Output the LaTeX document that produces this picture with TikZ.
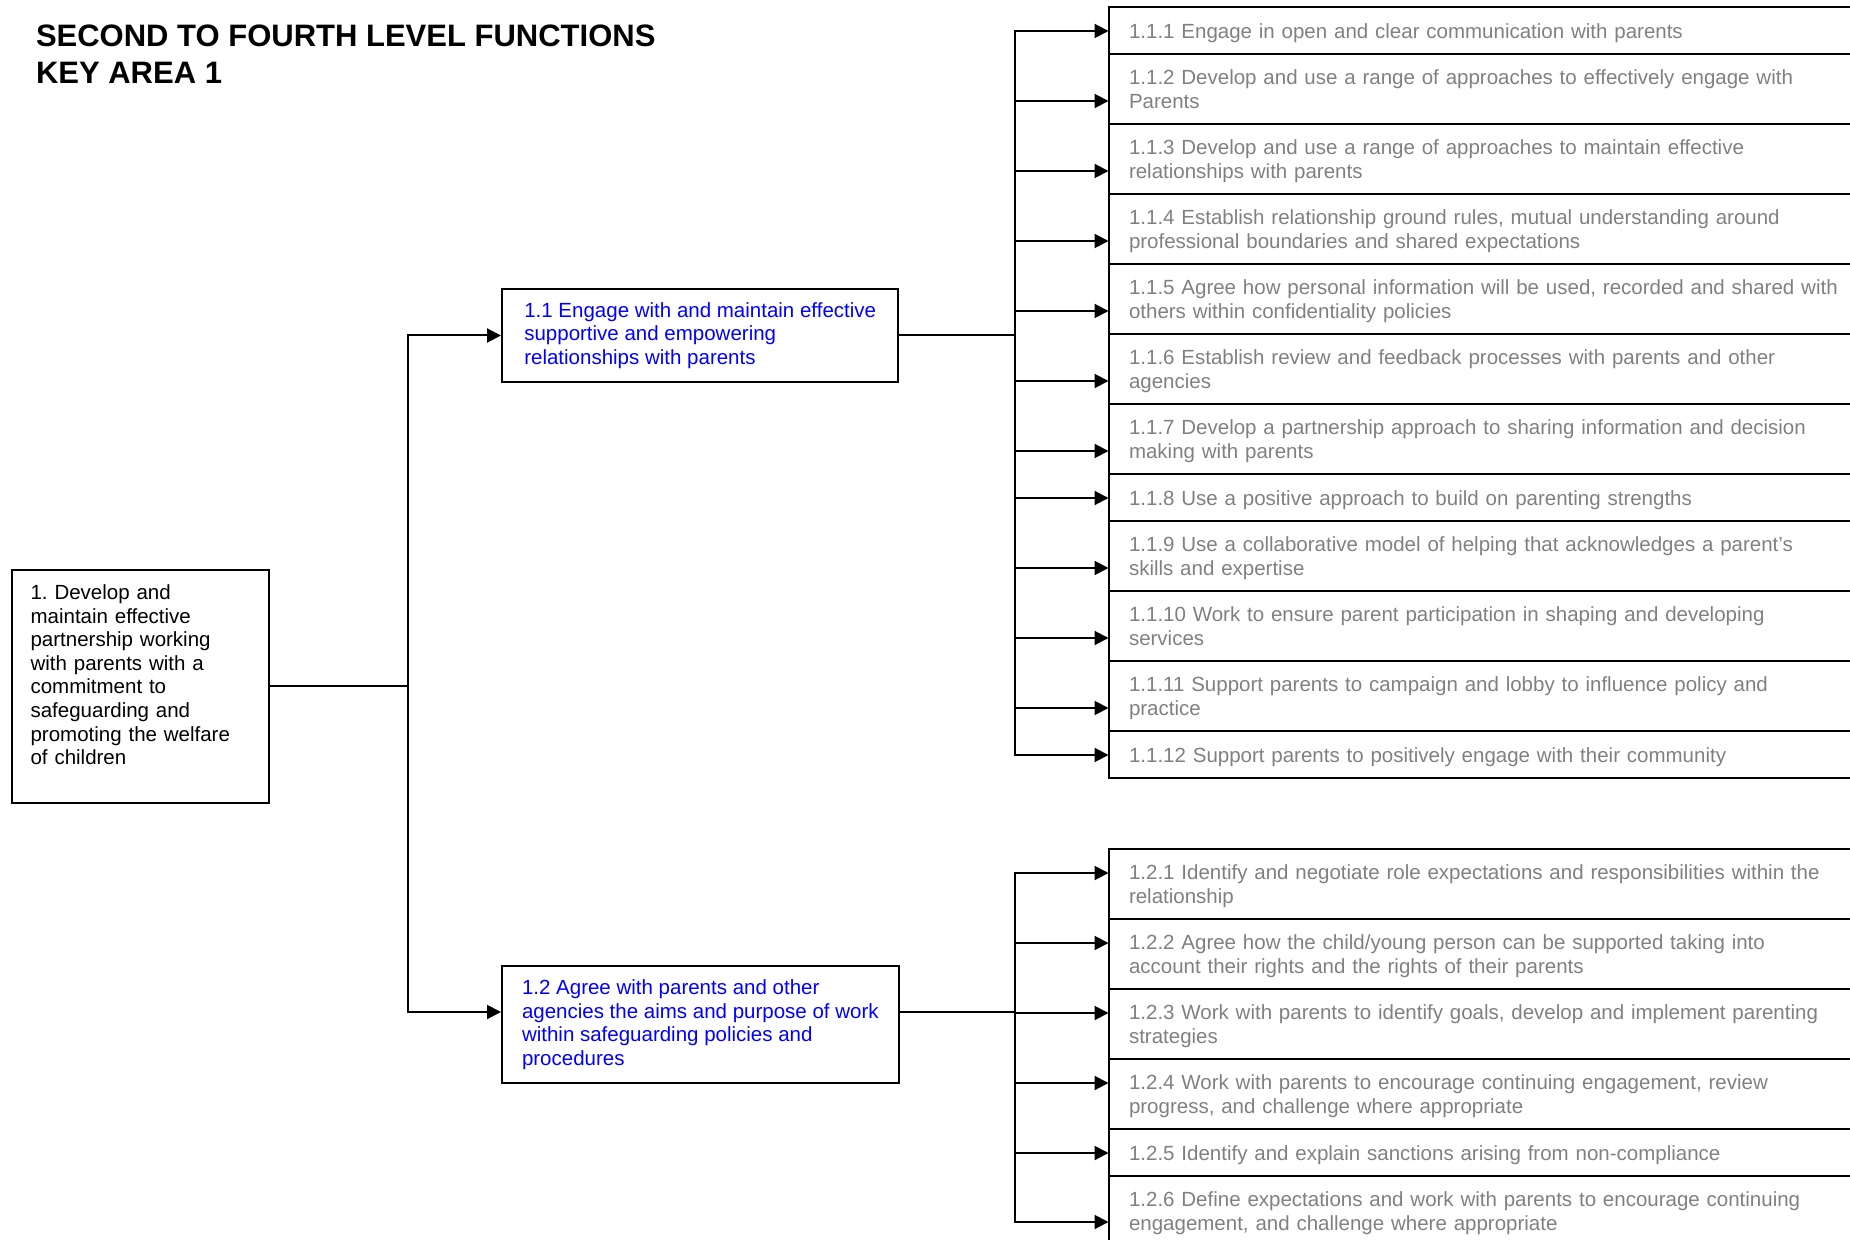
\documentclass[tikz,border=0pt]{standalone}
\usepackage{fontspec}
\setmainfont{Liberation Sans}
\usepackage{tikz}
\usetikzlibrary{arrows.meta}
\definecolor{fnblue}{RGB}{0,0,255}
\definecolor{fngrey}{RGB}{128,128,128}
\newcommand{\bodyfont}{\fontsize{10.25}{11.8}\selectfont}
\frenchspacing

\begin{document}
\begin{tikzpicture}[x=0.5pt,y=-0.5pt,line width=1pt,
	>={Triangle[length=7pt,width=7pt]},
	pagetitle/.style={font=\fontsize{15.5}{18.3}\selectfont\bfseries,align=left,inner sep=0pt,anchor=north west},
	keybox/.style={draw,anchor=north west,font=\bodyfont,text width=109.6pt,inner xsep=9.5pt,inner ysep=2pt,align=left,minimum height=116.75pt},
	fnbox/.style={draw,anchor=north west,font=\bodyfont,text=fnblue,align=left,inner xsep=10pt,inner ysep=2pt,minimum width=198.2pt},
	subbox/.style={draw,anchor=north west,outer sep=0pt,font=\bodyfont,text=fngrey,text width=370pt,inner xsep=10.25pt,inner ysep=0pt,align=left,
		execute at begin node={\rule{0pt}{9.9pt}},execute at end node={\rule[-2.3pt]{0pt}{0pt}}},
	oneline/.style={minimum height=23.5pt},
	twoline/.style={minimum height=35pt}]
	\clip (0,0) rectangle (1850,1240);
	
	% Title
	\node[pagetitle] (ttl) at (35,24) {SECOND TO FOURTH LEVEL FUNCTIONS\\KEY AREA 1};
	
	% Key area
	\node[keybox] (ka1) at (10.6,568.7) {1. Develop and\\maintain effective\\partnership working\\with parents with a\\commitment to\\safeguarding and\\promoting the welfare\\of children\\\mbox{}};
	
	% Functions
	\node[fnbox,minimum height=46.5pt] (f11) at (501,288) {1.1 Engage with and maintain effective\\supportive and empowering\\relationships with parents};
	\node[fnbox,minimum height=58.5pt] (f12) at (501,965) {1.2 Agree with parents and other\\agencies the aims and purpose of work\\within safeguarding policies and\\procedures};
	
	% Sub functions 1.1
	\node[subbox,oneline] (f111) at (1108.5,7) {1.1.1 Engage in open and clear communication with parents};
	\node[subbox,twoline] (f112) at (f111.south west) {1.1.2 Develop and use a range of approaches to effectively engage with\\Parents};
	\node[subbox,twoline] (f113) at (f112.south west) {1.1.3 Develop and use a range of approaches to maintain effective\\relationships with parents};
	\node[subbox,twoline] (f114) at (f113.south west) {1.1.4 Establish relationship ground rules, mutual understanding around\\professional boundaries and shared expectations};
	\node[subbox,twoline] (f115) at (f114.south west) {1.1.5 Agree how personal information will be used, recorded and shared with\\others within confidentiality policies};
	\node[subbox,twoline] (f116) at (f115.south west) {1.1.6 Establish review and feedback processes with parents and other\\agencies};
	\node[subbox,twoline] (f117) at (f116.south west) {1.1.7 Develop a partnership approach to sharing information and decision\\making with parents};
	\node[subbox,oneline] (f118) at (f117.south west) {1.1.8 Use a positive approach to build on parenting strengths};
	\node[subbox,twoline] (f119) at (f118.south west) {1.1.9 Use a collaborative model of helping that acknowledges a parent’s\\skills and expertise};
	\node[subbox,twoline] (f1110) at (f119.south west) {1.1.10 Work to ensure parent participation in shaping and developing\\services};
	\node[subbox,twoline] (f1111) at (f1110.south west) {1.1.11 Support parents to campaign and lobby to influence policy and\\practice};
	\node[subbox,oneline] (f1112) at (f1111.south west) {1.1.12 Support parents to positively engage with their community};
	
	% Sub functions 1.2
	\node[subbox,twoline] (f121) at (1108.5,849) {1.2.1 Identify and negotiate role expectations and responsibilities within the\\relationship};
	\node[subbox,twoline] (f122) at (f121.south west) {1.2.2 Agree how the child/young person can be supported taking into\\account their rights and the rights of their parents};
	\node[subbox,twoline] (f123) at (f122.south west) {1.2.3 Work with parents to identify goals, develop and implement parenting\\strategies};
	\node[subbox,twoline] (f124) at (f123.south west) {1.2.4 Work with parents to encourage continuing engagement, review\\progress, and challenge where appropriate};
	\node[subbox,oneline] (f125) at (f124.south west) {1.2.5 Identify and explain sanctions arising from non-compliance};
	\node[subbox,twoline] (f126) at (f125.south west) {1.2.6 Define expectations and work with parents to encourage continuing\\engagement, and challenge where appropriate};
	
	% Key area to functions
	\coordinate (busA) at (408,0);
	\coordinate (f12in) at ([yshift=6.25pt]f12.west);
	\coordinate (f12out) at ([yshift=6.25pt]f12.east);
	\draw (ka1.east) -- (busA |- ka1.east);
	\draw[->] (busA |- ka1.east) |- (f11.west);
	\draw[->] (busA |- ka1.east) |- (f12in);
	
	% Functions to sub functions
	\coordinate (busB) at (1015,0);
	\draw (f11.east) -- (busB |- f11.east);
	\draw (f12out) -- (busB |- f12out);
	
	\coordinate (a111) at ([yshift=11.5pt]f111.south west);
	\coordinate (a112) at ([yshift=11.5pt]f112.south west);
	\coordinate (a113) at ([yshift=11.5pt]f113.south west);
	\coordinate (a114) at ([yshift=11.5pt]f114.south west);
	\coordinate (a115) at ([yshift=11.5pt]f115.south west);
	\coordinate (a116) at ([yshift=11.5pt]f116.south west);
	\coordinate (a117) at ([yshift=11.5pt]f117.south west);
	\coordinate (a118) at ([yshift=11.5pt]f118.south west);
	\coordinate (a119) at ([yshift=11.5pt]f119.south west);
	\coordinate (a1110) at ([yshift=11.5pt]f1110.south west);
	\coordinate (a1111) at ([yshift=11.5pt]f1111.south west);
	\coordinate (a1112) at ([yshift=11.5pt]f1112.south west);
	\draw[->] (busB |- f11.east) |- (a111);
	\draw[->] (busB |- f11.east) |- (a112);
	\draw[->] (busB |- f11.east) |- (a113);
	\draw[->] (busB |- f11.east) |- (a114);
	\draw[->] (busB |- f11.east) |- (a115);
	\draw[->] (busB |- f11.east) |- (a116);
	\draw[->] (busB |- f11.east) |- (a117);
	\draw[->] (busB |- f11.east) |- (a118);
	\draw[->] (busB |- f11.east) |- (a119);
	\draw[->] (busB |- f11.east) |- (a1110);
	\draw[->] (busB |- f11.east) |- (a1111);
	\draw[->] (busB |- f11.east) |- (a1112);
	
	\coordinate (a121) at ([yshift=-12pt]f121.north west);
	\coordinate (a122) at ([yshift=-12pt]f122.north west);
	\coordinate (a123) at ([yshift=-12pt]f123.north west);
	\coordinate (a124) at ([yshift=-12pt]f124.north west);
	\coordinate (a125) at ([yshift=-12pt]f125.north west);
	\coordinate (a126) at ([yshift=12pt]f126.south west);
	\draw[->] (busB |- f12out) |- (a121);
	\draw[->] (busB |- f12out) |- (a122);
	\draw[->] (busB |- f12out) |- (a123);
	\draw[->] (busB |- f12out) |- (a124);
	\draw[->] (busB |- f12out) |- (a125);
	\draw[->] (busB |- f12out) |- (a126);
\end{tikzpicture}
\end{document}
